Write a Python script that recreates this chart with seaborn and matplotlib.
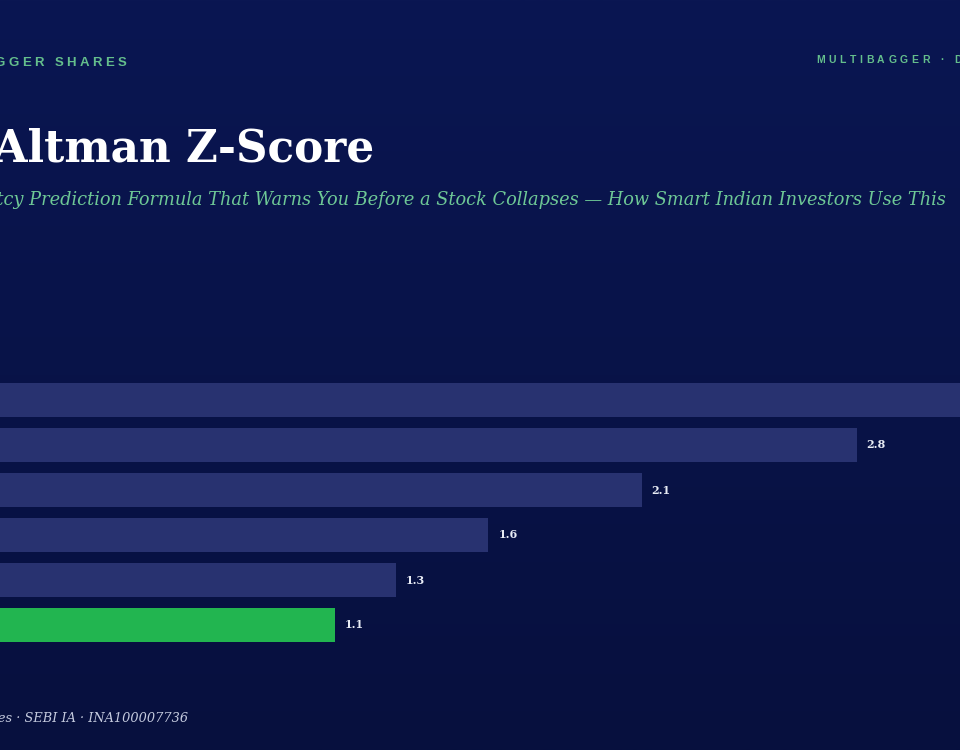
import numpy as np
import pandas as pd
import matplotlib
matplotlib.use("Agg")
import matplotlib.pyplot as plt
import seaborn as sns

# ---- data ----
categories = ["Safe Zone Leader", "Strong Balance Sheet", "Grey Zone", "Watchlist", "Distress Risk", "Near Collapse"]
scores = [3.5, 2.8, 2.1, 1.6, 1.3, 1.1]
labels = ["3.5", "2.8", "2.1", "1.6", "1.3", "1.1"]
highlight = "Near Collapse"

sns.set_theme(style="white")
plt.rcParams["font.family"] = ["DejaVu Sans"]

W, H = 960, 750
fig = plt.figure(figsize=(W / 100, H / 100), dpi=100)
renderer = fig.canvas.get_renderer()

# background gradient
bg = fig.add_axes([0, 0, 1, 1], zorder=0)
top = np.array([10, 22, 82]) / 255
bot = np.array([7, 16, 62]) / 255
t = np.linspace(0, 1, 256)[:, None]
grad = top[None, :] * (1 - t) + bot[None, :] * t
bg.imshow(grad[:, None, :], aspect="auto", extent=[0, 1, 0, 1])
bg.set_axis_off()

# bar axes
x0_px = -3
ppu = 307.0
ax = fig.add_axes([x0_px / W, (H - 647.5) / H, (W - x0_px) / W, 270 / H], zorder=1)
ax.patch.set_alpha(0)

df = pd.DataFrame({"category": categories, "score": scores})
palette = {c: ("#22b550" if c == highlight else "#283270") for c in categories}
sns.barplot(data=df, y="category", x="score", hue="category", palette=palette,
            order=categories, width=0.75, saturation=1, legend=False, ax=ax,
            edgecolor="none")
ax.set_xlim(0, (W - x0_px) / ppu)
ax.set_ylim(5.5, -0.5)
ax.set_xlabel("")
ax.set_ylabel("")
ax.set_xticks([])
ax.set_yticklabels([])
ax.tick_params(axis="y", length=0)
for s in ax.spines.values():
    s.set_visible(False)

for i, (v, lab) in enumerate(zip(scores, labels)):
    ax.annotate(lab, (v, i), xytext=(10, 0), textcoords="offset pixels",
                ha="left", va="center", fontsize=8, fontweight="bold",
                family="DejaVu Serif", color="#e8ecf5", annotation_clip=True)


def px(x, y):
    return x / W, 1 - y / H


def spaced_text(x, y, s, spacing, align="left", **kw):
    """Draw text with letter spacing (pixels); x,y in pixels from top-left."""
    widths = []
    for ch in s:
        tt = fig.text(0, 0, ch if ch != " " else "n", **kw)
        w = tt.get_window_extent(renderer).width
        if ch == " ":
            w *= 0.55
        widths.append(w)
        tt.remove()
    total = sum(widths) + spacing * (len(s) - 1)
    cx = x - total if align == "right" else x
    for ch, w in zip(s, widths):
        if ch != " ":
            fig.text(*px(cx, y), ch, ha="left", va="baseline", **kw)
        cx += w + spacing


hdr = dict(fontsize=9.5, fontweight="bold", family="Liberation Sans", color="#64be8c")
spaced_text(126, 66, "MULTIBAGGER SHARES", 3.3, align="right", **hdr)
hdr2 = dict(fontsize=7.5, fontweight="bold", family="Liberation Sans", color="#64be8c")
spaced_text(816, 63, "MULTIBAGGER · DEEP DIVE", 3.6, align="left", **hdr2)

fig.text(*px(374, 162), "The Altman Z-Score", ha="right", va="baseline",
         fontsize=31.5, fontweight="bold", family="DejaVu Serif", color="#ffffff")

fig.text(*px(946, 205),
         "The Bankruptcy Prediction Formula That Warns You Before a Stock Collapses \u2014 How Smart Indian Investors Use This",
         ha="right", va="baseline", fontsize=12.8, style="italic",
         family="DejaVu Serif", color="#6ec896")

fig.text(*px(188, 722), "Multibagger Shares \u00b7 SEBI IA \u00b7 INA100007736",
         ha="right", va="baseline", fontsize=9.3, style="italic",
         family="DejaVu Serif", color="#c4cade")

fig.savefig("out.png", dpi=100)
